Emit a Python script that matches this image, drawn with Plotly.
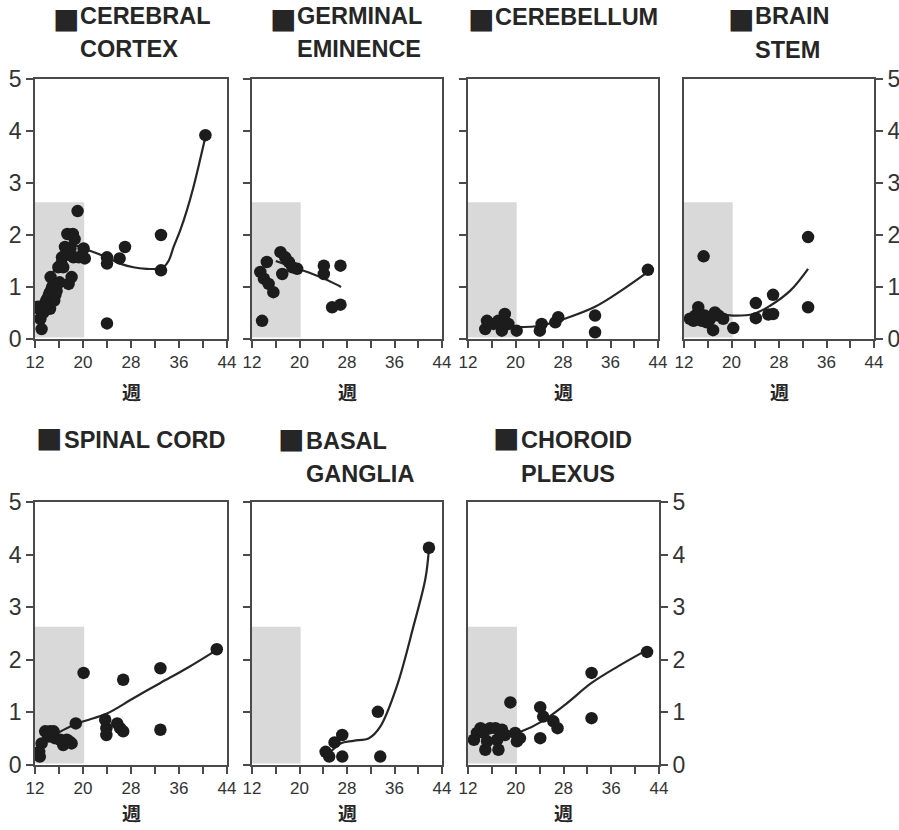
import plotly.graph_objects as go

# ---------------- data ----------------
weeks_ticks = [12, 16, 20, 24, 28, 32, 36, 40, 44]
weeks_labels = ["12", "", "20", "", "28", "", "36", "", "44"]
y_ticks = [0, 1, 2, 3, 4, 5]
y_labels = ["0", "1", "2", "3", "4", "5"]
axis_title = "週"
shade_x = [12, 20.2]
shade_y = [0.03, 2.63]

# CEREBRAL CORTEX
cc_x = [12.5, 12.7, 12.9, 13.1, 13.4, 13.6, 13.9, 14.2, 14.4, 14.5, 14.6, 14.9, 15.2, 15.4,
        15.6, 15.9, 16.1, 16.4, 16.5, 16.7, 17.0, 17.2, 17.4, 17.6, 17.9, 18.1, 18.3, 18.4,
        18.6, 19.1, 19.3, 20.1, 20.3, 24.0, 24.0, 24.0, 26.1, 27.0, 33.0, 33.0, 40.4]
cc_y = [0.62, 0.58, 0.39, 0.19, 0.51, 0.66, 0.74, 0.62, 0.87, 0.58, 1.19, 1.00, 0.74, 0.85,
        0.93, 1.38, 1.09, 1.45, 1.57, 1.38, 1.77, 1.62, 2.02, 1.06, 1.74, 1.19, 2.02, 1.57,
        1.92, 2.46, 1.57, 1.74, 1.55, 1.57, 1.45, 0.30, 1.55, 1.77, 2.00, 1.32, 3.92]
cc_fit_x = [12.5, 14.0, 15.5, 17.0, 18.5, 20.1, 24.0, 26.2, 28.4, 30.6, 32.3, 33.4, 34.3,
            35.1, 36.2, 37.3, 38.4, 39.5, 40.4]
cc_fit_y = [0.60, 1.00, 1.40, 1.72, 1.80, 1.74, 1.57, 1.45, 1.38, 1.35, 1.35, 1.38, 1.51,
            1.77, 2.09, 2.47, 2.92, 3.44, 3.89]

# GERMINAL EMINENCE
ge_x = [13.7, 13.4, 14.0, 14.5, 14.8, 15.6, 16.8, 17.1, 17.6, 18.2, 18.8, 19.6, 24.1, 24.1,
        26.9, 25.5, 26.9]
ge_y = [0.35, 1.29, 1.16, 1.48, 1.06, 0.90, 1.67, 1.25, 1.57, 1.48, 1.38, 1.35, 1.41, 1.25,
        1.41, 0.61, 0.66]
ge_fit_x = [16.0, 18.0, 20.0, 22.0, 24.0, 26.0, 27.0]
ge_fit_y = [1.50, 1.42, 1.34, 1.26, 1.17, 1.06, 1.00]

# CEREBELLUM
cb_x = [14.9, 15.2, 16.3, 17.1, 17.7, 18.2, 18.3, 18.8, 20.2, 24.1, 24.4, 26.7, 27.2, 33.4,
        33.4, 42.3]
cb_y = [0.19, 0.35, 0.29, 0.35, 0.16, 0.48, 0.32, 0.29, 0.16, 0.16, 0.29, 0.32, 0.42, 0.45,
        0.13, 1.33]
cb_fit_x = [14.9, 17.5, 20.2, 24.4, 28.3, 33.4, 37.8, 42.3]
cb_fit_y = [0.30, 0.25, 0.23, 0.26, 0.39, 0.62, 0.93, 1.29]

# BRAIN STEM
bs_x = [15.3, 32.9, 32.9, 27.0, 24.1, 24.1, 26.2, 27.0, 20.3, 16.9, 13.0, 13.9, 14.4, 15.0,
        15.5, 16.4, 17.2, 17.8, 18.6, 15.8, 13.6]
bs_y = [1.59, 1.96, 0.61, 0.85, 0.69, 0.40, 0.47, 0.48, 0.21, 0.17, 0.39, 0.45, 0.61, 0.35,
        0.45, 0.39, 0.51, 0.45, 0.39, 0.32, 0.35]
bs_fit_x = [15.0, 17.5, 20.3, 23.7, 26.5, 29.9, 32.9]
bs_fit_y = [0.53, 0.48, 0.45, 0.48, 0.64, 0.93, 1.35]

# SPINAL CORD
sc_x = [12.8, 12.7, 13.1, 13.7, 14.2, 14.5, 15.1, 15.3, 16.2, 16.7, 17.3, 17.8, 18.1, 18.8,
        20.1, 23.7, 23.9, 23.9, 25.7, 26.2, 26.7, 26.7, 32.9, 32.9, 42.3]
sc_y = [0.16, 0.25, 0.41, 0.64, 0.54, 0.64, 0.64, 0.51, 0.48, 0.38, 0.48, 0.44, 0.41, 0.79,
        1.75, 0.86, 0.70, 0.57, 0.79, 0.70, 0.64, 1.62, 1.84, 0.67, 2.20]
sc_fit_x = [13.4, 15.1, 17.3, 20.1, 24.0, 28.4, 32.9, 37.3, 42.3]
sc_fit_y = [0.48, 0.57, 0.70, 0.83, 0.98, 1.27, 1.56, 1.84, 2.19]

# BASAL GANGLIA
bg_x = [41.8, 33.2, 33.6, 27.2, 27.2, 25.9, 24.4, 25.0]
bg_y = [4.13, 1.01, 0.16, 0.16, 0.57, 0.43, 0.25, 0.16]
bg_fit_x = [25.0, 26.9, 29.1, 31.7, 33.6, 36.4, 39.2, 41.2, 41.8]
bg_fit_y = [0.22, 0.41, 0.46, 0.51, 0.73, 1.50, 2.64, 3.54, 4.11]

# CHOROID PLEXUS
cp_x = [42.0, 32.7, 32.7, 19.1, 24.1, 24.6, 24.1, 26.3, 27.0, 19.9, 20.2, 20.7, 13.0, 13.5,
        14.1, 14.9, 15.2, 15.7, 16.6, 16.9, 17.1, 17.7, 18.2, 14.6]
cp_y = [2.15, 1.75, 0.89, 1.19, 1.10, 0.92, 0.51, 0.83, 0.70, 0.61, 0.45, 0.51, 0.48, 0.61,
        0.70, 0.29, 0.45, 0.70, 0.70, 0.48, 0.29, 0.67, 0.57, 0.61]
cp_fit_x = [19.3, 21.0, 24.4, 28.3, 32.7, 37.2, 41.7]
cp_fit_y = [0.58, 0.64, 0.83, 1.15, 1.56, 1.88, 2.17]

titles = [["CEREBRAL", "CORTEX"], ["GERMINAL", "EMINENCE"], ["CEREBELLUM"], ["BRAIN", "STEM"],
          ["SPINAL CORD"], ["BASAL", "GANGLIA"], ["CHOROID", "PLEXUS"]]
series = [(cc_x, cc_y, cc_fit_x, cc_fit_y), (ge_x, ge_y, ge_fit_x, ge_fit_y),
          (cb_x, cb_y, cb_fit_x, cb_fit_y), (bs_x, bs_y, bs_fit_x, bs_fit_y),
          (sc_x, sc_y, sc_fit_x, sc_fit_y), (bg_x, bg_y, bg_fit_x, bg_fit_y),
          (cp_x, cp_y, cp_fit_x, cp_fit_y)]

# ---------------- layout geometry (pixels) ----------------
W, H = 899, 830
panel_px = [  # left, right, top, bottom
    (35, 227, 79, 339), (252, 442, 79, 339), (468, 658, 79, 339), (684, 874, 79, 339),
    (35, 227, 502, 765), (252, 442, 502, 765), (468, 659, 502, 765)]
ymode = ["left", "leftnolabel", "leftnolabel", "right", "left", "leftnolabel", "right"]
title_px = [  # square left x, text left x, line1 y, line2 y
    (55, 78, 17, 50), (272, 295, 17, 50), (470, 493, 18, 51), (730, 753, 17, 51),
    (38, 62, 441, 475), (280, 304, 442, 475), (495, 519, 441, 475)]
wk_y = [391, 391, 391, 391, 812, 812, 812]
SQ_SIZE = 28

INK = "#262626"
AX = "#4a4a4a"
fig = go.Figure()
annotations = []
shapes = []

for i, (px, py, fx, fy) in enumerate(series):
    n = "" if i == 0 else str(i + 1)
    xa, ya = "x" + n, "y" + n
    L, R, T, B = panel_px[i]
    fig.add_trace(go.Scatter(x=fx, y=fy, xaxis=xa, yaxis=ya, mode="lines",
                             line=dict(color=INK, width=2.2, shape="spline", smoothing=1.0),
                             hoverinfo="skip", showlegend=False))
    fig.add_trace(go.Scatter(x=px, y=py, xaxis=xa, yaxis=ya, mode="markers",
                             marker=dict(color="#1c1c1c", size=12.5, line=dict(width=0)),
                             showlegend=False))
    shapes.append(dict(type="rect", xref=xa, yref=ya, x0=shade_x[0], x1=shade_x[1],
                       y0=shade_y[0], y1=shade_y[1], fillcolor="#d9d9d9",
                       line=dict(width=0), layer="below"))
    xaxis = dict(domain=[L / W, R / W], range=[12, 44], anchor=ya, automargin=False,
                 tickvals=weeks_ticks, ticktext=weeks_labels, ticks="outside", ticklen=7,
                 tickwidth=1.6, tickcolor=AX, showline=True, linecolor=AX, linewidth=1.8,
                 mirror=True, showgrid=False, zeroline=False, fixedrange=True,
                 tickfont=dict(family="Liberation Sans Narrow, Arial Narrow, Liberation Sans",
                               size=17, color="#333333"))
    mode = ymode[i]
    yaxis = dict(domain=[1 - B / H, 1 - T / H], range=[0, 5], anchor=xa, automargin=False,
                 tickvals=y_ticks, ticktext=y_labels,
                 showline=True, linecolor=AX, linewidth=1.8, mirror=True,
                 showgrid=False, zeroline=False, fixedrange=True,
                 tickfont=dict(family="Liberation Sans", size=23, color="#333333"),
                 ticklen=7, tickwidth=1.6, tickcolor=AX, ticks="outside")
    if mode == "right":
        yaxis["side"] = "right"
    elif mode == "leftnolabel":
        yaxis["showticklabels"] = False
    fig.layout["xaxis" + n] = xaxis
    fig.layout["yaxis" + n] = yaxis

    sqx, tx, l1, l2 = title_px[i]
    if l1 < 100:
        sq_y, sq_anchor = 1.0, "top"
    else:
        sq_y, sq_anchor = 1 - (l1 - 3.5) / H, "middle"
    annotations.append(dict(text="■", x=(sqx - 4) / W, y=sq_y, xref="paper",
                            yref="paper", xanchor="left", yanchor=sq_anchor, showarrow=False,
                            font=dict(family="DejaVu Sans", size=SQ_SIZE, color=INK)))
    lines = titles[i]
    for k, t in enumerate(lines):
        yy = l1 if k == 0 else l2
        annotations.append(dict(text=t, x=tx / W, y=1 - (yy - 1) / H, xref="paper",
                                yref="paper", xanchor="left", yanchor="middle",
                                showarrow=False,
                                font=dict(family="Liberation Sans", size=23.5, color=INK,
                                          weight="bold")))
    annotations.append(dict(text=axis_title, x=(L + R) / 2 / W, y=1 - wk_y[i] / H,
                            xref="paper", yref="paper", xanchor="center", yanchor="middle",
                            showarrow=False,
                            font=dict(family="Noto Sans CJK JP", size=19, color=INK,
                                      weight="bold")))

fig.update_layout(width=W, height=H, margin=dict(l=0, r=0, t=0, b=0, autoexpand=False),
                  paper_bgcolor="white", plot_bgcolor="white",
                  annotations=annotations, shapes=shapes, showlegend=False)
fig.write_html("out.html")
